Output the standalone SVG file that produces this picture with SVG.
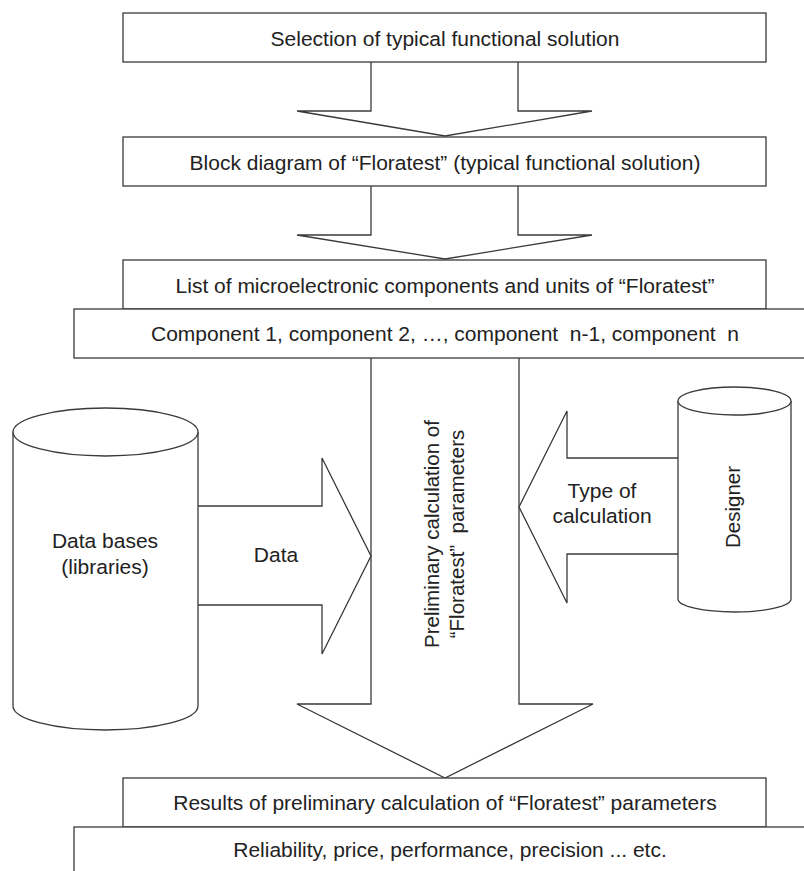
<svg xmlns="http://www.w3.org/2000/svg" width="804" height="871" viewBox="0 0 804 871">
<style>
.s{fill:#fff;stroke:#3a3a3a;stroke-width:1.3}
.t{font-family:"Liberation Sans",Arial,sans-serif;font-size:19.5px;fill:#222;text-anchor:middle;white-space:pre}
text.r{font-size:20.5px}
</style>
<rect width="804" height="871" fill="#fff"/>
<g id="connectors">
<path class="s" d="M371,62 V111 H297 L445,136 L592,111 H518 V62"/>
<path class="s" d="M371,186 V235 H297 L445,259 L592,235 H518 V186"/>
<path class="s" d="M371,358 V704 H297 L445,778 L593,704 H519 V358"/>
<path class="s" d="M198,506 H322 V458 L371,556 L322,654 V605 H198"/>
<path class="s" d="M678,458 H567 V411 L519,507 L567,603 V554 H678"/>
<text class="t r" transform="translate(439,534) rotate(-90)">Preliminary calculation of</text>
<text class="t r" transform="translate(464,534) rotate(-90)">“Floratest”  parameters</text>
<text class="t" transform="translate(276,562) scale(1.077,1)">Data</text>
<text class="t" transform="translate(602,498) scale(1.077,1)">Type of</text>
<text class="t" transform="translate(602,523) scale(1.077,1)">calculation</text>
</g>
<g id="n1"><rect class="s" x="123" y="13" width="643" height="49"/><text class="t" transform="translate(445,46) scale(1.077,1)">Selection of typical functional solution</text></g>
<g id="n2"><rect class="s" x="123" y="137" width="643" height="49"/><text class="t" transform="translate(445,170) scale(1.077,1)">Block diagram of “Floratest” (typical functional solution)</text></g>
<g id="n3"><rect class="s" x="123" y="260" width="643" height="49"/><text class="t" transform="translate(445,293) scale(1.077,1)">List of microelectronic components and units of “Floratest”</text></g>
<g id="n4"><rect class="s" x="74" y="309" width="740" height="49"/><text class="t" transform="translate(445,341) scale(1.077,1)">Component 1, component 2, …, component  n-1, component  n</text></g>
<g id="n5"><rect class="s" x="123" y="778" width="643" height="49"/><text class="t" transform="translate(445,810) scale(1.077,1)">Results of preliminary calculation of “Floratest” parameters</text></g>
<g id="n6"><rect class="s" x="74" y="827" width="740" height="60"/><text class="t" transform="translate(450,857) scale(1.077,1)">Reliability, price, performance, precision ... etc.</text></g>
<g id="db">
<path class="s" d="M13,432 A92.5,24 0 0 1 198,432 V706 A92.5,24 0 0 1 13,706 Z"/>
<path class="s" d="M13,432 A92.5,24 0 0 0 198,432"/>
<text class="t" transform="translate(105,548) scale(1.077,1)">Data bases</text>
<text class="t" transform="translate(105,574) scale(1.077,1)">(libraries)</text>
</g>
<g id="designer">
<path class="s" d="M678,401 A56.5,14 0 0 1 791,401 V599 A56.5,13 0 0 1 678,599 Z"/>
<path class="s" d="M678,401 A56.5,14 0 0 0 791,401"/>
<text class="t" transform="translate(740,507) rotate(-90)" style="font-size:20.5px">Designer</text>
</g>
</svg>
